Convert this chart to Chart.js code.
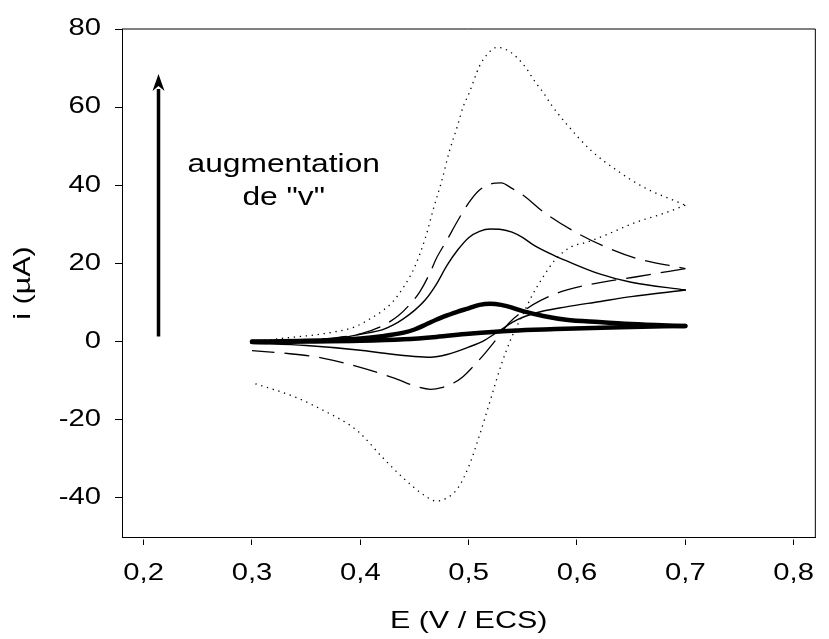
<!DOCTYPE html>
<html>
<head>
<meta charset="utf-8">
<script src="https://cdn.jsdelivr.net/npm/chart.js@4/dist/chart.umd.min.js"></script>
<style>
  html, body { margin: 0; padding: 0; background: #fff; }
  canvas { display: block; }
</style>
</head>
<body>
<canvas id="cv" width="829" height="639"></canvas>
<script>
// Axis ticks
const xTicks = [0.2, 0.3, 0.4, 0.5, 0.6, 0.7, 0.8];
const yTicks = [-40, -20, 0, 20, 40, 60, 80];

// Voltammograms [E (V/ECS), i (µA)], forward sweep 0.3 -> 0.7 V and return sweep 0.7 -> 0.3 V
// v1: slowest scan rate (thick line)
const v1Fwd = [[0.30,0.0],[0.35,0.2],[0.38,0.5],[0.40,0.8],[0.42,1.4],[0.44,2.3],[0.45,3.1],[0.46,4.3],[0.47,5.6],[0.48,6.7],[0.49,7.7],[0.50,8.5],[0.51,9.4],[0.52,9.7],[0.53,9.4],[0.54,8.7],[0.55,7.8],[0.57,6.5],[0.59,5.6],[0.62,5.0],[0.65,4.5],[0.70,4.0]];
const v1Rev = [[0.70,4.0],[0.64,3.7],[0.58,3.2],[0.54,2.8],[0.50,2.0],[0.47,1.2],[0.44,0.6],[0.40,0.2],[0.35,0.0],[0.30,-0.1]];
// v2: thin solid line
const v2Fwd = [[0.30,0.0],[0.35,0.3],[0.38,0.9],[0.40,1.9],[0.42,3.0],[0.43,4.2],[0.44,5.9],[0.45,8.0],[0.46,10.7],[0.47,14.6],[0.48,19.5],[0.49,23.5],[0.50,26.6],[0.51,28.2],[0.52,28.8],[0.53,28.7],[0.54,28.0],[0.55,26.6],[0.56,24.7],[0.58,21.9],[0.59,20.7],[0.62,17.4],[0.65,15.2],[0.70,13.2]];
const v2Rev = [[0.70,13.2],[0.65,11.5],[0.62,10.2],[0.59,8.9],[0.56,7.2],[0.545,5.6],[0.53,3.1],[0.515,0.4],[0.50,-1.4],[0.48,-3.3],[0.465,-4.0],[0.45,-3.8],[0.42,-2.9],[0.40,-2.2],[0.35,-1.0],[0.30,-0.4]];
// v3: dashed line
const v3Fwd = [[0.30,0.0],[0.35,0.4],[0.38,1.1],[0.40,2.0],[0.42,4.0],[0.435,6.6],[0.445,9.3],[0.455,12.8],[0.465,18.0],[0.47,21.2],[0.48,26.0],[0.49,31.0],[0.50,35.5],[0.51,38.8],[0.52,40.3],[0.53,40.6],[0.54,39.2],[0.55,37.5],[0.57,33.0],[0.60,27.8],[0.625,24.4],[0.655,21.3],[0.70,18.7]];
const v3Rev = [[0.70,18.7],[0.655,16.6],[0.625,15.3],[0.59,13.2],[0.567,10.6],[0.552,8.1],[0.537,4.7],[0.525,0.4],[0.515,-3.0],[0.504,-6.4],[0.495,-8.9],[0.486,-10.6],[0.475,-11.8],[0.465,-12.2],[0.453,-11.6],[0.432,-9.4],[0.40,-6.6],[0.365,-4.2],[0.335,-3.1],[0.30,-2.3]];
// v4: fastest scan rate (dotted line)
const v4Fwd = [[0.30,0.0],[0.33,0.9],[0.37,2.2],[0.395,3.8],[0.41,6.0],[0.42,7.8],[0.43,10.2],[0.44,14.0],[0.45,19.0],[0.46,26.5],[0.468,34.5],[0.475,41.0],[0.482,48.5],[0.49,55.5],[0.495,60.2],[0.50,63.3],[0.51,70.5],[0.518,73.8],[0.526,75.3],[0.534,74.8],[0.545,72.6],[0.554,69.6],[0.561,66.6],[0.569,63.7],[0.576,60.7],[0.59,55.8],[0.613,48.9],[0.637,43.8],[0.661,39.6],[0.70,34.9]];
const v4Rev = [[0.70,34.9],[0.68,32.8],[0.655,30.6],[0.63,27.7],[0.61,25.5],[0.595,24.3],[0.58,21.0],[0.567,15.8],[0.558,11.5],[0.549,6.4],[0.54,1.3],[0.53,-6.0],[0.52,-15.0],[0.51,-24.0],[0.50,-32.0],[0.49,-37.5],[0.48,-40.0],[0.47,-40.8],[0.46,-39.5],[0.44,-35.0],[0.42,-29.5],[0.40,-23.5],[0.39,-21.3],[0.37,-18.2],[0.34,-14.2],[0.30,-10.5]];

// Annotation: arrow and caption (data coordinates)
const arrowE = 0.2137, arrowFrom = 1.3, arrowTo = 68.5;
const captionLines = ['augmentation', 'de "v"'];
const captionE = 0.3293, captionI = [43.4, 34.9];

const FONT = "'Liberation Sans', Arial, Helvetica, sans-serif";
const STRETCH = 1.27; // the figure's lettering is a horizontally expanded sans

const toPts = arr => arr.map(([x, y]) => ({ x, y }));

function curve(points, width, dash) {
  return {
    data: toPts(points),
    showLine: true,
    borderColor: '#000',
    borderWidth: width,
    borderDash: dash,
    borderCapStyle: dash.length ? 'butt' : 'round',
    borderJoinStyle: 'round',
    pointRadius: 0,
    cubicInterpolationMode: 'monotone',
    fill: false
  };
}

// Widen every glyph around its anchor point so alignment is preserved
const wideText = {
  id: 'wideText',
  beforeInit(chart) {
    const ctx = chart.ctx;
    const fill = ctx.fillText.bind(ctx);
    const measure = ctx.measureText.bind(ctx);
    ctx.fillText = function (s, x, y) {
      ctx.save();
      ctx.translate(x, y);
      ctx.scale(STRETCH, 1);
      fill(s, 0, 0);
      ctx.restore();
    };
    ctx.measureText = function (s) {
      const m = measure(s);
      return {
        width: m.width * STRETCH,
        actualBoundingBoxAscent: m.actualBoundingBoxAscent,
        actualBoundingBoxDescent: m.actualBoundingBoxDescent,
        actualBoundingBoxLeft: m.actualBoundingBoxLeft * STRETCH,
        actualBoundingBoxRight: m.actualBoundingBoxRight * STRETCH
      };
    };
  }
};

// Closed frame around the plot plus the arrow and caption
const frameAndNotes = {
  id: 'frameAndNotes',
  afterDatasetsDraw(chart) {
    const { ctx, chartArea: a, scales: { x, y } } = chart;
    ctx.save();
    ctx.strokeStyle = '#000';
    ctx.lineWidth = 1;
    ctx.beginPath();
    ctx.moveTo(a.left, a.top);
    ctx.lineTo(a.right, a.top);
    ctx.moveTo(a.right, a.top);
    ctx.lineTo(a.right, a.bottom);
    ctx.stroke();

    // arrow
    const ax = x.getPixelForValue(arrowE);
    const y0 = y.getPixelForValue(arrowFrom);
    const y1 = y.getPixelForValue(arrowTo);
    const headL = 17, headW = 6;
    ctx.lineWidth = 3.5;
    ctx.lineCap = 'butt';
    ctx.beginPath();
    ctx.moveTo(ax, y0);
    ctx.lineTo(ax, y1 + headL - 2);
    ctx.stroke();
    ctx.fillStyle = '#000';
    ctx.beginPath();
    ctx.moveTo(ax, y1);
    ctx.lineTo(ax - headW, y1 + headL);
    ctx.lineTo(ax, y1 + headL - 5);
    ctx.lineTo(ax + headW, y1 + headL);
    ctx.closePath();
    ctx.fill();

    // caption
    ctx.font = '25px ' + FONT;
    ctx.textAlign = 'center';
    ctx.textBaseline = 'alphabetic';
    const cx = x.getPixelForValue(captionE);
    captionLines.forEach((t, k) => ctx.fillText(t, cx, y.getPixelForValue(captionI[k])));
    ctx.restore();
  }
};

const fmt = v => v.toFixed(1).replace('.', ',');

new Chart(document.getElementById('cv'), {
  type: 'scatter',
  data: {
    datasets: [
      curve(v4Fwd, 1.3, [1.3, 4.7]),
      curve(v4Rev, 1.3, [1.3, 4.7]),
      curve(v3Fwd, 1.3, [25, 10]),
      curve(v3Rev, 1.3, [25, 10]),
      curve(v2Fwd, 1.4, []),
      curve(v2Rev, 1.4, []),
      curve(v1Fwd, 4.5, []),
      curve(v1Rev, 4.5, [])
    ]
  },
  options: {
    responsive: false,
    animation: false,
    events: [],
    layout: { padding: { top: 29, right: 1, left: 0, bottom: 0 } },
    plugins: { legend: { display: false }, tooltip: { enabled: false } },
    scales: {
      x: {
        type: 'linear',
        min: 0.18,
        max: 0.82,
        afterBuildTicks: s => { s.ticks = xTicks.map(value => ({ value })); },
        afterFit: s => { s.height = 102; },
        border: { display: true, color: '#000', width: 1 },
        grid: {
          drawOnChartArea: false,
          drawTicks: true,
          tickLength: 8,
          tickColor: '#000',
          tickWidth: 1,
          tickBorderDash: [0, 1.5, 6, 0]
        },
        ticks: {
          color: '#000',
          padding: 15,
          maxRotation: 0,
          font: { family: FONT, size: 23 },
          callback: v => fmt(v)
        },
        title: {
          display: true,
          text: 'E (V / ECS)',
          color: '#000',
          font: { family: FONT, size: 24 },
          padding: { top: 0, bottom: 3 }
        }
      },
      y: {
        type: 'linear',
        min: -50,
        max: 80,
        afterBuildTicks: s => { s.ticks = yTicks.map(value => ({ value })); },
        afterFit: s => { s.width = 122; },
        border: { display: true, color: '#000', width: 1 },
        grid: {
          drawOnChartArea: false,
          drawTicks: true,
          tickLength: 7,
          tickColor: '#000',
          tickWidth: 1
        },
        ticks: {
          color: '#000',
          padding: 14,
          font: { family: FONT, size: 23 },
          callback: v => String(v)
        },
        title: {
          display: true,
          text: 'i (µA)',
          color: '#000',
          font: { family: FONT, size: 24 },
          padding: { top: 8.5, bottom: 0 }
        }
      }
    }
  },
  plugins: [wideText, frameAndNotes]
});
</script>
</body>
</html>
